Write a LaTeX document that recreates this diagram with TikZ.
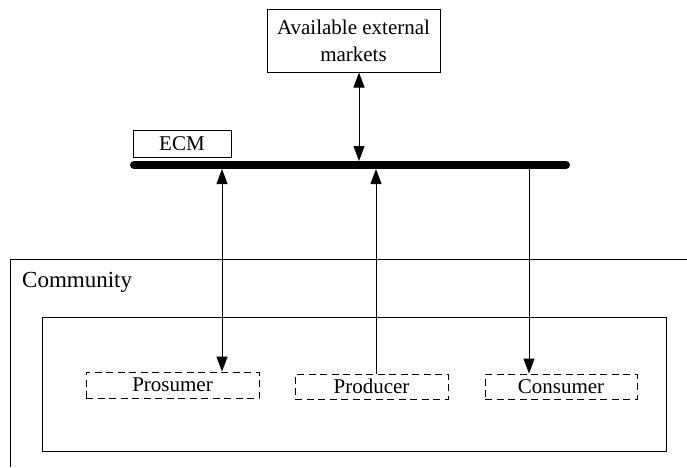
\documentclass[tikz,border=0pt]{standalone}
\usepackage{fontspec}
\setmainfont{Liberation Serif}
\usetikzlibrary{arrows.meta}
\begin{document}
\begin{tikzpicture}[x=1pt,y=-1pt,
  every node/.style={font=\fontsize{21}{27}\selectfont},
  solidbox/.style={draw,line width=1pt,inner sep=0pt,align=center},
  dashbox/.style={draw,line width=1pt,dash pattern=on 7pt off 4.5pt,inner sep=0pt},
  conn/.style={line width=1pt},
  tip/.style={-{Triangle[length=15pt,width=11pt]}},
  tips/.style={{Triangle[length=15pt,width=11pt]}-{Triangle[length=15pt,width=11pt]}}]
\useasboundingbox (0,0) rectangle (687,467);
% community frame
\draw[conn] (687,259) -- (10,259) -- (10,467);
\node[anchor=base west,inner sep=0pt,font=\fontsize{23}{27}\selectfont] (comm) at (22,287) {Community};
\draw[conn] (42,317) rectangle (666,451);
% top boxes
\node[solidbox,minimum width=173pt,minimum height=63pt] (mkt) at (353.5,40.5) {Available external\\markets};
\node[solidbox,minimum width=98pt,minimum height=27pt] (ecm) at (182,143.5) {ECM};
% bus
\coordinate (busL) at (134,165);
\coordinate (busR) at (566,165);
\draw[line width=8pt,line cap=round] (busL) -- (busR);
% members
\node[dashbox,minimum width=173pt,minimum height=26pt] (pros) at (172.5,385) {Prosumer};
\node[dashbox,minimum width=153pt,minimum height=25pt] (prod) at (371.5,386.5) {Producer};
\node[dashbox,minimum width=152pt,minimum height=25pt] (cons) at (561,386.5) {Consumer};
% bus attachment points
\coordinate (bm) at (359,161);
\coordinate (b1) at (222,169);
\coordinate (b2) at (376,169);
\coordinate (b3) at (529,169);
% connectors
\draw[conn,tips] (mkt.south -| bm) -- (bm);
\draw[conn,tips] (b1) -- (b1 |- pros.north);
\draw[conn,tip] (b2 |- prod.north) -- (b2);
\draw[conn,tip] (b3) -- (b3 |- cons.north);
\end{tikzpicture}
\end{document}
